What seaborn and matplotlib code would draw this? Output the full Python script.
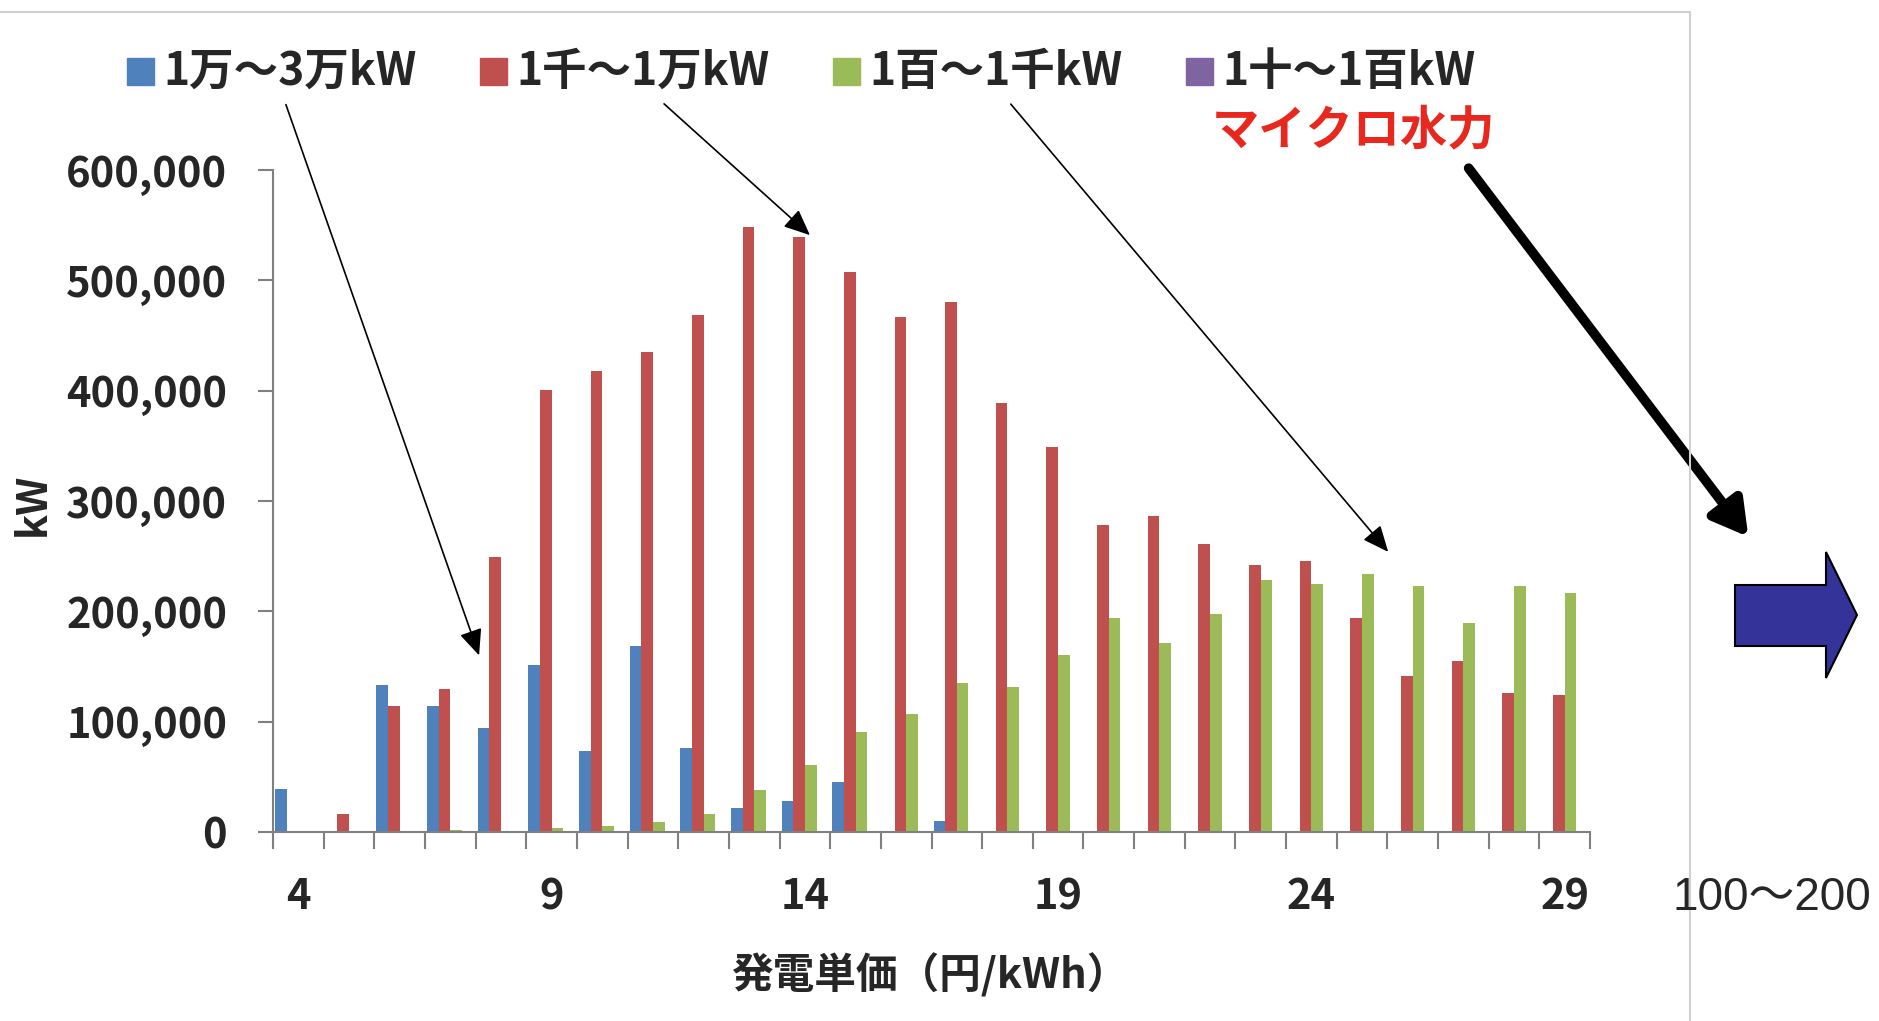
import numpy as np
import pandas as pd
import matplotlib.pyplot as plt
import seaborn as sns
from matplotlib.patches import Rectangle, Polygon, FancyArrowPatch
from matplotlib.lines import Line2D

# generation unit cost (yen/kWh) categories
costs = [4, 5, 6, 7, 8, 9, 10, 11, 12, 13, 14, 15, 16,
         17, 18, 19, 20, 21, 22, 23, 24, 25, 26, 27, 28, 29]

series_names = ["1万～3万kW", "1千～1万kW", "1百～1千kW", "1十～1百kW"]
series_colors = ["#4f81bd", "#c0504d", "#9bbb59", "#8064a2"]

kw_10k_30k = [39000, 0, 133000, 114000, 94000, 151000, 73000, 169000, 76000,
              22000, 28000, 45000, 0, 10000, 0, 0, 0, 0, 0, 0, 0, 0, 0, 0, 0, 0]
kw_1k_10k = [0, 16000, 114000, 130000, 249000, 401000, 418000, 435000, 469000,
             548000, 539000, 508000, 467000, 480000, 389000, 349000, 278000,
             286000, 261000, 242000, 246000, 194000, 141000, 155000, 126000, 124000]
kw_100_1k = [0, 0, 0, 2000, 0, 4000, 5500, 9500, 16500, 38500, 60500, 91000,
             106500, 135000, 131000, 160000, 194000, 171000, 198000, 228000,
             225000, 234000, 223000, 189000, 223000, 217000]
kw_10_100 = [0] * 26

y_ticks = [0, 100000, 200000, 300000, 400000, 500000, 600000]
label_costs = [4, 9, 14, 19, 24, 29]

W, H = 1879, 1021


def fx(x):
    return x / W


def fy(y):
    return 1 - y / H


sns.set_style("white")
plt.rcParams["font.family"] = ["Noto Sans CJK JP", "DejaVu Sans"]

df = pd.DataFrame({
    "cost": costs * 4,
    "series": np.repeat(series_names, len(costs)),
    "kw": kw_10k_30k + kw_1k_10k + kw_100_1k + kw_10_100,
})

fig = plt.figure(figsize=(W / 100, H / 100), dpi=100)
ax = fig.add_axes([fx(273), fy(832), fx(1590) - fx(273), fy(170) - fy(832)])

sns.barplot(data=df, x="cost", y="kw", hue="series", hue_order=series_names,
            order=costs, palette=series_colors, width=0.92, saturation=1,
            errorbar=None, legend=False, linewidth=0, ax=ax)

ax.set_xlim(-0.5, len(costs) - 0.5)
ax.set_ylim(0, 600000)
ax.set_yticks(y_ticks)
ax.set_yticklabels([f"{v:,}" for v in y_ticks], fontsize=30, fontweight="bold")
ax.set_xticks([costs.index(c) for c in label_costs])
ax.set_xticklabels([str(c) for c in label_costs], fontsize=30, fontweight="bold")
ax.set_xticks(np.arange(-0.5, len(costs), 1), minor=True)
ax.tick_params(axis="x", which="both", bottom=True)
ax.tick_params(axis="y", which="both", left=True)
ax.tick_params(axis="x", which="major", length=0, pad=32)
ax.tick_params(axis="x", which="minor", length=12, width=1.5, color="#808080", direction="out")
ax.tick_params(axis="y", length=11, width=1.5, color="#808080", pad=22, direction="out")
ax.set_xlabel("")
ax.set_ylabel("")
for s in ["top", "right"]:
    ax.spines[s].set_visible(False)
for s in ["left", "bottom"]:
    ax.spines[s].set_color("#808080")
    ax.spines[s].set_linewidth(1.5)

fig.text(fx(930), fy(975), "発電単価（円/kWh）", ha="center", va="center",
         fontsize=30, fontweight="bold")
fig.text(fx(33), fy(504), "kW", ha="center", va="center", rotation=90,
         fontsize=30, fontweight="bold")

# legend row
for i, (name, col) in enumerate(zip(series_names, series_colors)):
    x0 = 127 + 353 * i
    fig.add_artist(Rectangle((fx(x0), fy(85)), 27 / W, 27 / H,
                             transform=fig.transFigure, color=col))
    fig.text(fx(x0 + 36), fy(72), name, ha="left", va="center",
             fontsize=32, fontweight="bold")

# thin pointer arrows from legend to bars
for (x1, y1), (x2, y2) in [((285, 102), (480, 658)),
                           ((662, 102), (812, 237)),
                           ((1009, 102), (1390, 554))]:
    fig.add_artist(FancyArrowPatch((fx(x1), fy(y1)), (fx(x2), fy(y2)),
                                   transform=fig.transFigure,
                                   arrowstyle="-|>,head_length=0.8,head_width=0.35",
                                   mutation_scale=20, lw=1.2, color="black"))

fig.text(fx(1353), fy(130), "マイクロ水力", ha="center", va="center",
         fontsize=34, fontweight="bold", color="#e8281e")
fig.add_artist(FancyArrowPatch((fx(1467), fy(166)), (fx(1750), fy(539)),
                               transform=fig.transFigure,
                               arrowstyle="-|>,head_length=0.7,head_width=0.4",
                               mutation_scale=30, lw=7, color="black"))

# frame lines of the slide panel
fig.add_artist(Line2D([0, fx(1690)], [fy(12), fy(12)], transform=fig.transFigure,
                      color="#d0d0d0", lw=1.5))
fig.add_artist(Line2D([fx(1690), fx(1690)], [fy(12), 0], transform=fig.transFigure,
                      color="#d0d0d0", lw=1.5))

# block arrow on the right
pts = [(1735, 585), (1826, 585), (1826, 552), (1857, 615),
       (1826, 678), (1826, 646), (1735, 646)]
fig.add_artist(Polygon([(fx(x), fy(y)) for x, y in pts], closed=True,
                       transform=fig.transFigure, facecolor="#333399",
                       edgecolor="black", lw=1.5))
fig.text(fx(1772), fy(898), "100～200", ha="center", va="center", fontsize=33,
         family=["Liberation Sans", "Noto Sans CJK JP"])

fig.savefig("out.png", dpi=100)
